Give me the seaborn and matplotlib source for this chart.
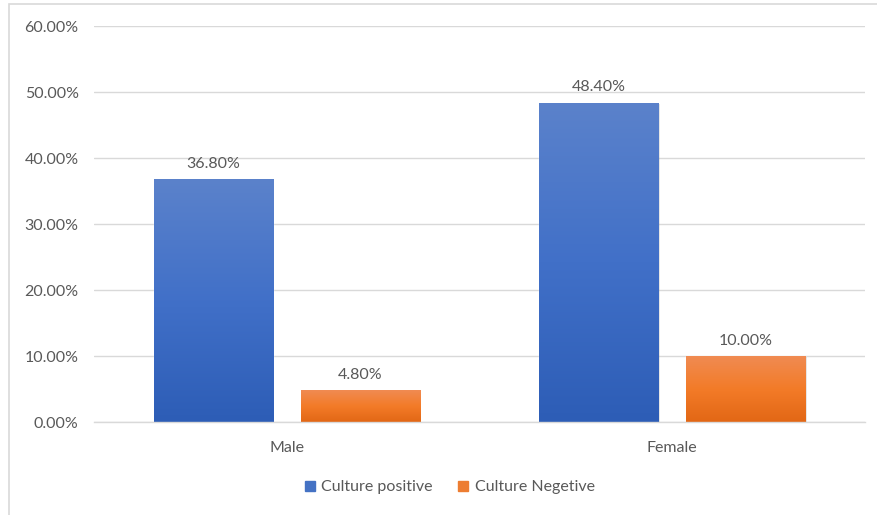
import numpy as np
import pandas as pd
import matplotlib
matplotlib.use("Agg")
import matplotlib.pyplot as plt
from matplotlib.colors import LinearSegmentedColormap
from matplotlib.patches import Rectangle
from matplotlib.ticker import PercentFormatter
import seaborn as sns

# Data
genders = ["Male", "Female"]
series = ["Culture positive", "Culture Negetive"]
culture_positive = [0.368, 0.484]
culture_negative = [0.048, 0.100]
y_ticks = [0.0, 0.1, 0.2, 0.3, 0.4, 0.5, 0.6]

base_colors = {"Culture positive": "#4472C4", "Culture Negetive": "#ED7D31"}
gradients = {
    "Culture positive": ["#5B82CB", "#4170C8", "#2D5DB6"],
    "Culture Negetive": ["#F08B52", "#F37B28", "#E26715"],
}

df = pd.DataFrame({
    "Gender": genders * 2,
    "Series": [series[0]] * 2 + [series[1]] * 2,
    "Value": culture_positive + culture_negative,
})

sns.set_theme(style="white")
plt.rcParams["font.family"] = ["Lato", "DejaVu Sans"]
text_gray = "#595959"
grid_gray = "#D9D9D9"
fs = 11.5

fig = plt.figure(figsize=(8.77, 5.15), dpi=100)
ax = fig.add_axes([94 / 877, 1 - 422 / 515, (865 - 94) / 877, (422 - 26) / 515])

sns.barplot(data=df, x="Gender", y="Value", hue="Series", order=genders,
            hue_order=series, palette=base_colors, width=0.763, gap=0.19,
            ax=ax, legend=False, saturation=1, zorder=3)

ax.set_xlim(-0.5, 1.5)
ax.set_ylim(0, 0.6)

# Vertical gradient fill and soft shadow for each bar
patches = list(ax.patches)
for i, p in enumerate(patches):
    name = series[i // len(genders)]
    x0, y0 = p.get_x(), p.get_y()
    w, h = p.get_width(), p.get_height()
    cmap = LinearSegmentedColormap.from_list(name, gradients[name][::-1])
    grad = np.linspace(0, 1, 256).reshape(-1, 1)
    img = ax.imshow(grad, cmap=cmap, origin="lower", aspect="auto",
                    extent=[x0, x0 + w, y0, y0 + h], zorder=3.5,
                    interpolation="bilinear")
    img.set_clip_path(p)
    shadow = Rectangle((x0 + 0.004, y0), w, h - 0.002, facecolor="#000000",
                       alpha=0.12, edgecolor="none", zorder=2.9)
    ax.add_patch(shadow)
    value = h
    ax.annotate(f"{value:.2%}", (x0 + w / 2, y0 + h), xytext=(0, 6),
                textcoords="offset points", ha="center", va="bottom",
                fontsize=fs, color=text_gray, zorder=5)

ax.set_xlim(-0.5, 1.5)
ax.set_ylim(0, 0.6)
ax.set_yticks(y_ticks)
ax.yaxis.set_major_formatter(PercentFormatter(1.0, decimals=2))
ax.grid(axis="y", color=grid_gray, linewidth=1, zorder=0)
ax.grid(axis="x", visible=False)
for side in ["left", "right", "top"]:
    ax.spines[side].set_visible(False)
ax.spines["bottom"].set_color(grid_gray)
ax.spines["bottom"].set_linewidth(1)
ax.spines["bottom"].set_zorder(4)
ax.tick_params(axis="y", length=0, pad=11, labelsize=fs, labelcolor=text_gray)
ax.tick_params(axis="x", length=0, pad=14, labelsize=fs, labelcolor=text_gray)
ax.set_xlabel("")
ax.set_ylabel("")

# Legend
handles = [plt.Line2D([], [], marker="s", linestyle="none", markersize=7,
                      markerfacecolor=base_colors[s], markeredgecolor=base_colors[s])
           for s in series]
fig.legend(handles, series, loc="center", bbox_to_anchor=(450 / 877, 1 - 487 / 515),
           ncol=2, frameon=False, fontsize=fs, labelcolor=text_gray,
           handlelength=0.6, handletextpad=0.4, columnspacing=1.6)

# Chart area border
fig.patches.append(Rectangle((8.5 / 877, -0.5), 2, 0.5 + 1 - 3.5 / 515,
                             transform=fig.transFigure, fill=False,
                             edgecolor=grid_gray, linewidth=1.2))

fig.savefig("out.png", dpi=100)
